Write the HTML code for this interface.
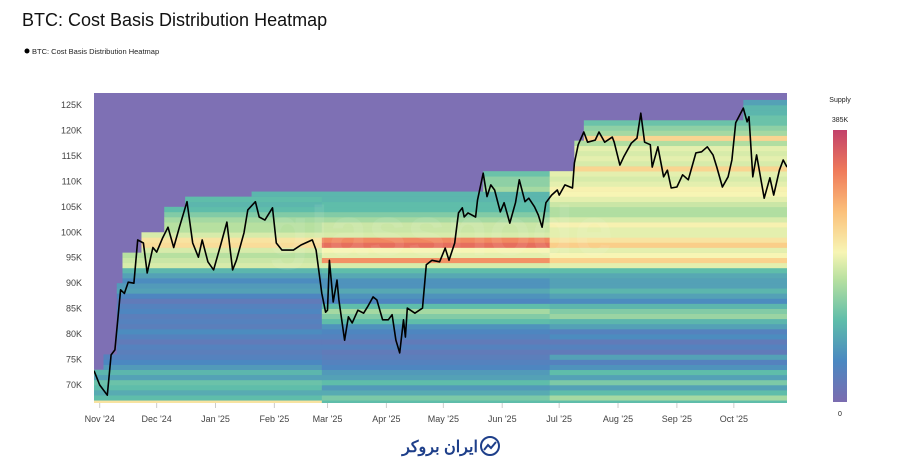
<!DOCTYPE html>
<html><head><meta charset="utf-8"><style>
body{margin:0;background:#fff;width:900px;height:471px;overflow:hidden;font-family:"Liberation Sans",sans-serif}
svg text{font-family:"Liberation Sans","Noto Sans CJK SC",sans-serif}
</style></head><body>
<svg id="chart" width="900" height="471">
<defs>
<linearGradient id="cbar" x1="0" y1="1" x2="0" y2="0">
<stop offset="0" stop-color="#7b6cb0"/><stop offset="0.15" stop-color="#4b88c1"/><stop offset="0.3" stop-color="#5fbdaa"/>
<stop offset="0.45" stop-color="#b7e0a0"/><stop offset="0.55" stop-color="#f7f5b4"/><stop offset="0.7" stop-color="#fbc07a"/>
<stop offset="0.85" stop-color="#ef7a5a"/><stop offset="1" stop-color="#c2416b"/>
</linearGradient>
<clipPath id="plotclip"><rect x="94" y="93" width="693" height="310"/></clipPath>
</defs>
<text x="22" y="26" font-size="18" fill="#111">BTC: Cost Basis Distribution Heatmap</text>
<g><circle cx="27" cy="51" r="2.5" fill="#000"/><text x="32" y="54" font-size="7.5" fill="#222">BTC: Cost Basis Distribution Heatmap</text></g>
<rect x="94" y="93" width="693" height="310" fill="#7e70b4"/>
<g id="cells" clip-path="url(#plotclip)"></g>
<text x="440" y="255" font-size="70" fill="#ffffff" fill-opacity="0.08" text-anchor="middle" font-weight="bold">glassnode</text>
<g id="line" clip-path="url(#plotclip)"></g>
<g id="yaxis"></g>
<g id="xaxis"></g>
<text x="840" y="102" font-size="7" fill="#222" text-anchor="middle">Supply</text>
<text x="840" y="122" font-size="7" fill="#222" text-anchor="middle">385K</text>
<rect x="833" y="130" width="14" height="272" fill="url(#cbar)"/>
<text x="840" y="416" font-size="7" fill="#222" text-anchor="middle">0</text>
<g>
<circle cx="490" cy="446" r="9" fill="none" stroke="#1e3f8a" stroke-width="2"/>
<path d="M484 450 L488 445 L491 448 L496 442" stroke="#1e3f8a" stroke-width="2" fill="none"/>
<text x="440" y="452" font-size="16" fill="#1e3f8a" text-anchor="middle" font-weight="bold" font-family="DejaVu Sans, sans-serif">ایران بروکر</text>
</g>
</svg>
<script>
const yTicks=[70,75,80,85,90,95,100,105,110,115,120,125];
const xTickLabels=["Nov '24","Dec '24","Jan '25","Feb '25","Mar '25","Apr '25","May '25","Jun '25","Jul '25","Aug '25","Sep '25","Oct '25"];
const xTickDays=[3,33,64,95,123,154,184,215,245,276,307,337];
const priceDays=[0,3,7,9,11,14,16,18,21,23,26,28,31,33,36,39,42,45,49,52,55,57,60,63,67,70,73,75,79,81,85,87,90,94,96,99,105,109,115,117,120,122,123,124,126,128,129,132,134,136,139,142,144,147,149,152,155,157,159,161,163,164,165,169,173,175,178,182,185,187,190,192,194,195,197,201,202,205,207,209,211,214,216,219,222,224,227,229,232,234,236,238,241,244,245,248,252,253,255,258,260,264,266,269,273,274,277,279,283,286,288,290,293,294,297,300,302,304,307,310,313,317,320,323,326,328,331,334,336,338,342,344,345,347,349,353,356,358,361,363,365];
const priceValues=[72.8,70,68,75.9,76.9,88.7,88,90.2,90,98.5,97.9,92,97,96.1,98.8,101,97,101,106,97.9,95.1,98.5,94.2,92.6,97.9,102,92.6,94.5,99.9,104.4,106,103,102.4,104.8,97.9,96.5,96.5,97.5,98.5,96.5,88,84.3,84.7,94.5,86.3,90.6,86.7,78.8,83.4,82.2,84.7,84.1,85.3,87.3,86.7,82.8,82.8,83.8,78.8,76.3,82.8,79.4,85.1,84.1,85.1,93.6,94.5,94.2,96.9,94.5,97.9,103.8,104.8,103,103.8,103,106.3,111.6,107,109.3,108.3,104,105.8,101.8,105.8,110.3,106,106.7,105,103.4,101,105.8,107.3,108.3,107.3,109.3,108.7,113.6,117.2,119.7,117.7,118.1,119.7,117.7,118.7,117.7,113.2,114.8,117.5,118.5,123.4,117.7,117.2,112.8,116.8,110.9,112.2,108.7,108.9,111.3,110.3,115.6,115.8,116.8,115.2,112.8,108.9,110.9,114.2,121.5,124.4,121.7,122.7,110.9,115.2,106.7,110.7,107.3,112.2,114.2,112.8];
const binLow=[66,67,68,69,70,71,72,73,74,75,76,77,78,79,80,81,82,83,84,85,86,87,88,89,90,91,92,93,94,95,96,97,98,99,100,101,102,103,104,105,106,107,108,109,110,111,112,113,114,115,116,117,118,119,120,121,122,123,124,125,126];
const binStart=[0,0,0,0,0,0,0,5,5,5,12,12,12,12,12,12,12,12,12,12,12,12,12,12,15,15,15,15,15,15,25,25,25,25,37,37,37,37,37,48,48,83,205,205,205,205,253,253,253,253,253,253,258,258,258,258,342,342,342,342,999];
const valEarly=[.6,.3,.25,.3,.32,.22,.28,.2,.15,.12,.1,.12,.08,.12,.16,.1,.12,.1,.14,.12,.08,.14,.22,.2,.16,.22,.28,.5,.48,.45,.5,.62,.6,.5,.45,.45,.42,.36,.3,.28,.3,.28,0,0,0,0,0,0,0,0,0,0,0,0,0,0,0,0,0,0,0];
const valMid=[.3,.35,.25,.2,.3,.22,.2,.14,.12,.1,.08,.12,.08,.12,.14,.18,.3,.36,.42,.3,.14,.18,.24,.18,.18,.24,.3,.5,.8,.52,.55,.88,.82,.5,.48,.48,.42,.36,.3,.3,.28,.28,.42,.38,.38,.32,0,0,0,0,0,0,0,0,0,0,0,0,0,0,0];
const valLate=[.3,.42,.3,.22,.35,.22,.3,.18,.12,.22,.08,.12,.08,.16,.12,.22,.28,.4,.36,.28,.16,.22,.28,.22,.22,.24,.3,.52,.65,.55,.52,.66,.6,.52,.52,.56,.5,.44,.44,.48,.52,.55,.56,.52,.5,.52,.64,.5,.52,.5,.52,.44,.64,.42,.38,.32,.32,.28,.28,.22,0];

const X0=94,X1=787,DAYS=365,YBOT=403,YTOP=93,VMIN=66.46,VMAX=127.36;
const xs=d=>X0+(X1-X0)*d/DAYS;
const ys=v=>YBOT-(YBOT-YTOP)*(v-VMIN)/(VMAX-VMIN);
const stops=[[0,[123,108,176]],[.15,[75,136,193]],[.3,[95,189,170]],[.45,[183,224,160]],[.55,[247,245,180]],[.7,[251,192,122]],[.85,[239,122,90]],[1,[194,65,107]]];
function col(t){for(let i=1;i<stops.length;i++){if(t<=stops[i][0]){const a=stops[i-1],b=stops[i],f=(t-a[0])/(b[0]-a[0]);return 'rgb('+a[1].map((c,k)=>Math.round(c+(b[1][k]-c)*f)).join(',')+')';}}return 'rgb(194,65,107)';}
const NS='http://www.w3.org/2000/svg';
const cells=document.getElementById('cells');
const phases=[[0,120,valEarly],[120,240,valMid],[240,DAYS,valLate]];
binLow.forEach((b,i)=>{
  phases.forEach(([p0,p1,arr])=>{
    const s=Math.max(p0,binStart[i]);if(s>=p1||arr[i]<=0)return;
    const r=document.createElementNS(NS,'rect');
    r.setAttribute('x',xs(s));r.setAttribute('width',xs(p1)-xs(s)+0.5);
    r.setAttribute('y',ys(b+1));r.setAttribute('height',ys(b)-ys(b+1)+0.3);
    r.setAttribute('fill',col(arr[i]));
    
    
    cells.appendChild(r);
  });
});
const line=document.getElementById('line');
const pl=document.createElementNS(NS,'polyline');
pl.setAttribute('points',priceDays.map((d,i)=>xs(d).toFixed(1)+','+ys(priceValues[i]).toFixed(1)).join(' '));
pl.setAttribute('fill','none');pl.setAttribute('stroke','#000');pl.setAttribute('stroke-width','1.6');pl.setAttribute('stroke-linejoin','round');


line.appendChild(pl);
const ya=document.getElementById('yaxis');
yTicks.forEach(v=>{const t=document.createElementNS(NS,'text');t.setAttribute('x',82);t.setAttribute('y',ys(v)+3);t.setAttribute('font-size','9');t.setAttribute('fill','#444');t.setAttribute('text-anchor','end');t.textContent=v+'K';


ya.appendChild(t);});
const xa=document.getElementById('xaxis');
xTickLabels.forEach((l,i)=>{const x=xs(xTickDays[i]);
const tk=document.createElementNS(NS,'line');tk.setAttribute('x1',x);tk.setAttribute('x2',x);tk.setAttribute('y1',403);tk.setAttribute('y2',408);tk.setAttribute('stroke','#ccc');


xa.appendChild(tk);
const t=document.createElementNS(NS,'text');t.setAttribute('x',x);t.setAttribute('y',422);t.setAttribute('font-size','9');t.setAttribute('fill','#444');t.setAttribute('text-anchor','middle');t.textContent=l;


xa.appendChild(t);});
</script>
</body></html>
